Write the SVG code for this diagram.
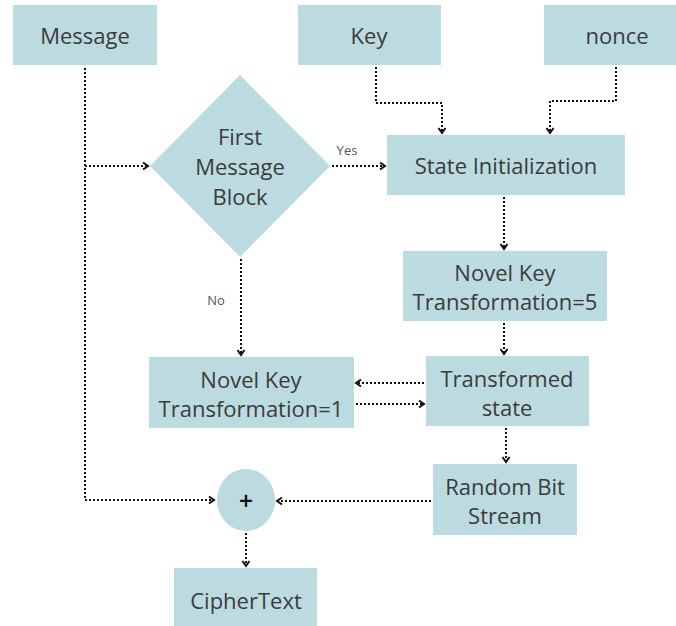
<svg xmlns="http://www.w3.org/2000/svg" width="676" height="626" viewBox="0 0 676 626">
<defs>
<style>
.box{fill:#bcdbe0;}
.t{font-family:"Open Sans","Noto Sans",sans-serif;font-size:22px;fill:#3b3b3b;text-anchor:middle;dominant-baseline:central;}
.lbl{font-family:"Open Sans","Noto Sans",sans-serif;font-size:13px;fill:#555;text-anchor:middle;dominant-baseline:central;}
.c{fill:none;stroke:#111;stroke-width:2;stroke-dasharray:2 2;}
</style>
<marker id="ah" viewBox="0 0 10 10" refX="8" refY="5" markerWidth="10" markerHeight="10" markerUnits="userSpaceOnUse" orient="auto">
<path d="M3,1.5 L8,5 L3,8.5" fill="none" stroke="#111" stroke-width="2"/>
</marker>
</defs>
<rect width="676" height="626" fill="#fff"/>
<g id="message"><rect class="box" x="13" y="5" width="144" height="60"/><text class="t" x="85" y="35">Message</text></g>
<g id="key"><rect class="box" x="298" y="5" width="143" height="60"/><text class="t" x="369" y="35">Key</text></g>
<g id="nonce"><rect class="box" x="544" y="5" width="146" height="60"/><text class="t" x="617" y="35">nonce</text></g>
<g id="first-block"><polygon class="box" points="240,75 330,166 240,257 150,166"/><text class="t" x="240" y="136">First</text><text class="t" x="240" y="166">Message</text><text class="t" x="240" y="196">Block</text></g>
<g id="state-init"><rect class="box" x="387" y="135" width="238" height="60"/><text class="t" x="506" y="165">State Initialization</text></g>
<g id="nkt5"><rect class="box" x="403" y="251" width="204" height="70"/><text class="t" x="505" y="272">Novel Key</text><text class="t" x="505" y="301">Transformation=5</text></g>
<g id="transformed"><rect class="box" x="426" y="356" width="163" height="70"/><text class="t" x="507" y="378">Transformed</text><text class="t" x="507" y="407">state</text></g>
<g id="nkt1"><rect class="box" x="149" y="357" width="205" height="71"/><text class="t" x="251" y="379">Novel Key</text><text class="t" x="251" y="408">Transformation=1</text></g>
<g id="rbs"><rect class="box" x="433" y="464" width="144" height="71"/><text class="t" x="505" y="486">Random Bit</text><text class="t" x="505" y="515">Stream</text></g>
<g id="xor"><ellipse class="box" cx="246" cy="500" rx="29" ry="31"/><text x="246" y="500" font-family="DejaVu Sans,sans-serif" font-weight="bold" font-size="19" fill="#111" text-anchor="middle" dominant-baseline="central">+</text></g>
<g id="ciphertext"><rect class="box" x="174" y="568" width="143" height="62"/><text class="t" x="246" y="600">CipherText</text></g>
<g id="connectors">
<path class="c" d="M85,68 V500 H214" marker-end="url(#ah)"/>
<path class="c" d="M85,166 H148" marker-end="url(#ah)"/>
<path class="c" d="M376,67 V103 H442 V133" marker-end="url(#ah)"/>
<path class="c" d="M616,67 V101 H550 V133" marker-end="url(#ah)"/>
<path class="c" d="M332,166 H385" marker-end="url(#ah)"/>
<path class="c" d="M504,197 V249" marker-end="url(#ah)"/>
<path class="c" d="M504,323 V354" marker-end="url(#ah)"/>
<path class="c" d="M241,259 V355" marker-end="url(#ah)"/>
<path class="c" d="M424,383 H356" marker-end="url(#ah)"/>
<path class="c" d="M356,404 H424" marker-end="url(#ah)"/>
<path class="c" d="M506,428 V462" marker-end="url(#ah)"/>
<path class="c" d="M431,501 H277" marker-end="url(#ah)"/>
<path class="c" d="M246,533 V566" marker-end="url(#ah)"/>
<text class="lbl" x="347" y="150">Yes</text>
<text class="lbl" x="216" y="300">No</text>
</g>
</svg>
